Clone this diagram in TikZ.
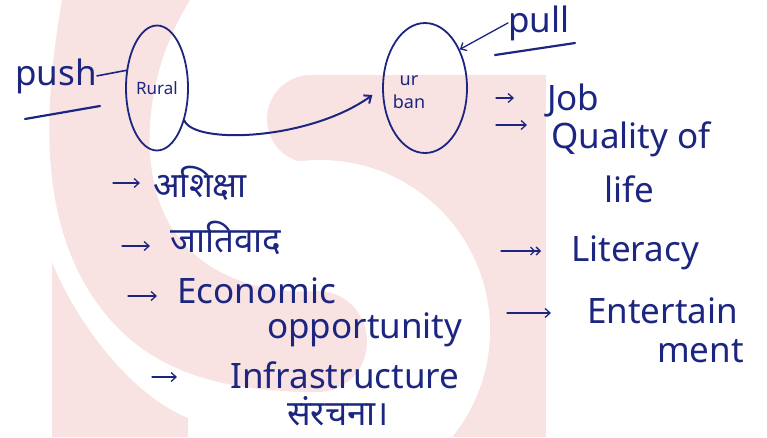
\documentclass[tikz,border=0pt]{standalone}
\usepackage{fontspec}
\setmainfont{Noto Sans}
\newfontfamily\hin[Script=Devanagari]{Noto Sans}
\usetikzlibrary{arrows.meta,shapes.geometric,calc}
\definecolor{ink}{RGB}{28,38,128}
\definecolor{wm}{RGB}{248,226,226}
\begin{document}
\begin{tikzpicture}[x=1pt,y=-1pt,
  ink/.style={draw=ink,line width=1.6pt,line cap=round},
  arr/.style={draw=ink,line width=1.3pt,line cap=round,-{Straight Barb[length=5pt,width=9pt]}},
  darr/.style={draw=ink,line width=1.3pt,line cap=round,-{Straight Barb[length=4pt,width=8pt]Straight Barb[length=4pt,width=8pt]}},
  tx/.style={text=ink,inner sep=0pt,anchor=base west,font=\fontsize{35}{40}\selectfont},
  hx/.style={text=ink,inner sep=0pt,anchor=base west,font=\hin\fontsize{35}{40}\selectfont},
  oval/.style={ellipse,draw=ink,line width=1.8pt,inner sep=0pt}]
\useasboundingbox (0,0) rectangle (767,437);
% watermark
\fill[white] (0,0) rectangle (767,437);
\fill[wm] (311,75) rectangle (546,437);
\fill[wm] (311,119) circle[radius=44];
\fill[white] (320,330) circle[radius=170];
\fill[wm] (52,437) -- (52,262) .. controls (75,320) and (130,395) .. (188,418) -- (188,437) -- cycle;
\fill[wm] (62,0) .. controls (45,100) and (35,220) .. (100,307)
  .. controls (140,360) and (200,392) .. (317,392)
  .. controls (345,392) and (367,370) .. (367,342)
  .. controls (367,313) and (345,291) .. (317,291)
  .. controls (260,295) and (200,275) .. (170,225)
  .. controls (140,175) and (140,80) .. (190,0) -- cycle;
% push / rural
\node[oval,minimum width=62pt,minimum height=125pt,text=ink,font=\fontsize{17}{17}\selectfont] (rural) at (157,88) {Rural};
\node[tx] (push) at (15,85) {push};
\draw[ink] (push.east) -- (rural.150);
\coordinate (pu1) at (25,119);
\coordinate (pu2) at (100,106);
\draw[ink,line width=2.2pt] (pu1) -- (pu2);
% urban / pull
\node[oval,minimum width=84pt,minimum height=130pt] (urban) at (425,88) {};
\node[text=ink,align=center,inner sep=0pt,font=\fontsize{18}{23}\selectfont] (urbantext) at (409,92) {ur\\ban};
\node[tx] (pull) at (508,32) {pull};
\draw[arr] (pull.west) -- (urban.48);
\coordinate (pl1) at (495,55);
\coordinate (pl2) at (575,43);
\draw[ink,line width=2.2pt] (pl1) -- (pl2);
% rural -> urban
\draw[ink,line width=2pt,-{Straight Barb[length=6pt,width=10pt]},shorten >=12pt]
  (rural.-50) .. controls (195,145) and (310,140) .. (urban.west);
% right list
\node[tx] (job) at (547,110) {Job};
\node[tx] (qual) at (551,148) {Quality of};
\node[tx] (life) at (604,202) {life};
\node[tx] (lit) at (571,261) {Literacy};
\node[tx] (ent) at (587,323) {Entertain};
\node[tx] (ment) at (657,362) {ment};
\coordinate (b1) at (496,98);
\coordinate (b2) at (496,125);
\coordinate (b3) at (501,251);
\coordinate (b4) at (507,313);
\draw[arr,shorten >=33pt] (b1) -- (b1 -| job.west);
\draw[arr,shorten >=24pt] (b2) -- (b2 -| qual.west);
\draw[darr,shorten >=30pt] (b3) -- (b3 -| lit.west);
\draw[arr,shorten >=36pt] (b4) -- (b4 -| ent.west);
% left list
\node[hx] (ashiksha) at (153,197) {अशिक्षा};
\node[hx] (jati) at (170,252) {जातिवाद};
\node[tx] (econ) at (177,303) {Economic};
\node[tx] (opp) at (267,338) {opportunity};
\node[tx] (infra) at (230,388) {Infrastructure};
\node[hx] (sanr) at (287,425) {संरचना।};
\coordinate (a1) at (113,183);
\coordinate (a2) at (122,246);
\coordinate (a3) at (128,296);
\coordinate (a4) at (152,377);
\draw[arr,shorten >=13pt] (a1) -- (a1 -| ashiksha.west);
\draw[arr,shorten >=20pt] (a2) -- (a2 -| jati.west);
\draw[arr,shorten >=20pt] (a3) -- (a3 -| econ.west);
\draw[arr,shorten >=53pt] (a4) -- (a4 -| infra.west);
\end{tikzpicture}
\end{document}
